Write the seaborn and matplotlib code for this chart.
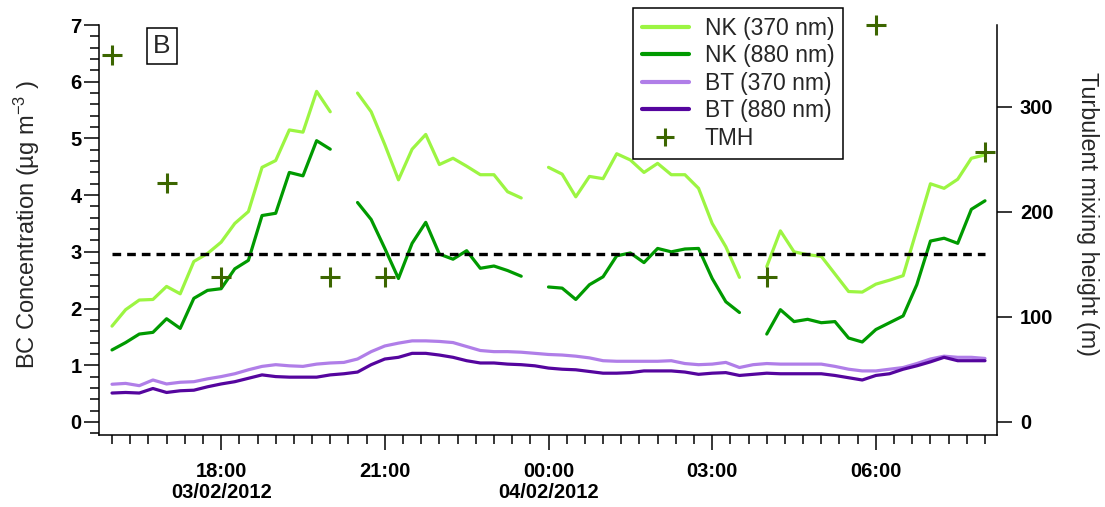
import numpy as np
import pandas as pd
import matplotlib
matplotlib.use("Agg")
import matplotlib.pyplot as plt
import matplotlib.dates as mdates
from matplotlib.ticker import MultipleLocator, FixedLocator
from matplotlib.lines import Line2D
import seaborn as sns

# ---------------- data ----------------
start_time = "2012-02-03 16:00"
n_points = 65  # 15-minute data, 16:00 -> 08:00
nan = np.nan

nk370 = [1.69, 1.98, 2.15, 2.16, 2.39, 2.26, 2.83, 2.97, 3.17, 3.50, 3.71, 4.49, 4.61,
         5.15, 5.11, 5.83, 5.47, nan, 5.80, 5.47, 4.89, 4.27, 4.81, 5.07, 4.54, 4.65,
         4.51, 4.36, 4.36, 4.06, 3.95, nan, 4.49, 4.37, 3.97, 4.33, 4.29, 4.73, 4.62,
         4.40, 4.56, 4.36, 4.36, 4.12, 3.50, 3.09, 2.55, nan, 2.74, 3.37, 3.00, 2.95,
         2.92, 2.61, 2.30, 2.29, 2.43, 2.50, 2.58, 3.39, 4.20, 4.12, 4.28, 4.65, 4.71]

nk880 = [1.27, 1.40, 1.55, 1.58, 1.82, 1.65, 2.18, 2.32, 2.35, 2.70, 2.85, 3.64, 3.68,
         4.40, 4.34, 4.96, 4.81, nan, 3.87, 3.57, 3.06, 2.53, 3.15, 3.52, 2.96, 2.87,
         3.02, 2.71, 2.75, 2.67, 2.57, nan, 2.38, 2.36, 2.16, 2.42, 2.56, 2.93, 2.98,
         2.81, 3.06, 3.00, 3.05, 3.06, 2.53, 2.12, 1.93, nan, 1.55, 1.98, 1.77, 1.81,
         1.75, 1.77, 1.48, 1.41, 1.63, 1.75, 1.87, 2.42, 3.19, 3.24, 3.15, 3.75, 3.90]

bt370 = [0.665, 0.68, 0.64, 0.74, 0.67, 0.70, 0.71, 0.76, 0.80, 0.85, 0.92, 0.98, 1.01,
         0.99, 0.98, 1.02, 1.04, 1.05, 1.11, 1.24, 1.34, 1.39, 1.43, 1.43, 1.42, 1.40,
         1.33, 1.26, 1.24, 1.24, 1.23, 1.21, 1.19, 1.18, 1.16, 1.13, 1.08, 1.07, 1.07,
         1.07, 1.07, 1.08, 1.03, 1.01, 1.02, 1.05, 0.96, 1.01, 1.03, 1.02, 1.02, 1.02,
         1.02, 0.98, 0.93, 0.90, 0.90, 0.93, 0.96, 1.03, 1.11, 1.16, 1.14, 1.14, 1.12]

bt880 = [0.51, 0.52, 0.51, 0.59, 0.52, 0.55, 0.56, 0.62, 0.67, 0.71, 0.77, 0.83, 0.80,
         0.79, 0.79, 0.79, 0.83, 0.85, 0.88, 1.01, 1.11, 1.14, 1.21, 1.21, 1.18, 1.14,
         1.08, 1.04, 1.04, 1.02, 1.01, 0.99, 0.95, 0.93, 0.92, 0.89, 0.86, 0.86, 0.87,
         0.90, 0.90, 0.90, 0.88, 0.84, 0.86, 0.87, 0.82, 0.84, 0.86, 0.85, 0.85, 0.85,
         0.85, 0.82, 0.78, 0.74, 0.82, 0.85, 0.93, 0.99, 1.06, 1.14, 1.08, 1.08, 1.08]

tmh_times = ["2012-02-03 16:00", "2012-02-03 17:00", "2012-02-03 18:00",
             "2012-02-03 20:00", "2012-02-03 21:00", "2012-02-04 04:00",
             "2012-02-04 06:00", "2012-02-04 08:00"]
tmh_values = [349, 228, 138, 138, 138, 138, 378, 257]

threshold = 2.97

series_names = ["NK (370 nm)", "NK (880 nm)", "BT (370 nm)", "BT (880 nm)"]
series_colors = ["#9cf542", "#009a00", "#b07ee8", "#55059e"]
tmh_name = "TMH"
tmh_color = "#3c6600"

xtick_times = ["2012-02-03 18:00", "2012-02-03 21:00", "2012-02-04 00:00",
               "2012-02-04 03:00", "2012-02-04 06:00"]
xtick_labels = ["18:00\n03/02/2012", "21:00", "00:00\n04/02/2012", "03:00", "06:00"]
yticks_left = [0, 1, 2, 3, 4, 5, 6, 7]
yticks_right = [0, 100, 200, 300]
ylabel_left = "BC Concentration (µg m$^{-3}$ )"
ylabel_right = "Turbulent mixing height (m)"
panel_label = "B"

# ---------------- style ----------------
sns.set_theme(style="ticks")
plt.rcParams['font.family'] = ['Liberation Sans', 'DejaVu Sans']
plt.rcParams['mathtext.fontset'] = 'custom'
plt.rcParams['mathtext.rm'] = 'Liberation Sans'
plt.rcParams['mathtext.it'] = 'Liberation Sans'
plt.rcParams['mathtext.bf'] = 'Liberation Sans:bold'

times = pd.date_range(start_time, periods=n_points, freq="15min")

fig = plt.figure(figsize=(11.05, 5.07), dpi=100)
ax = fig.add_axes([99 / 1105, 1 - 435 / 507, 898 / 1105, 410 / 507])

for vals, color in zip([nk370, nk880, bt370, bt880], series_colors):
    v = np.asarray(vals, dtype=float)
    df = pd.DataFrame({"time": times, "value": v, "seg": np.cumsum(np.isnan(v))}).dropna()
    sns.lineplot(data=df, x="time", y="value", units="seg", estimator=None,
                 color=color, linewidth=2.3, ax=ax, legend=False)

ax.hlines(threshold, times[0], times[-1], colors="black", linewidth=2.4,
          linestyles=(0, (2.6, 1.8)))

ax.set_xlim(pd.Timestamp("2012-02-03 15:45:42"), pd.Timestamp("2012-02-04 08:13:12"))
ax.set_ylim(-0.23, 7.0)

ax2 = ax.twinx()
sns.scatterplot(x=pd.to_datetime(tmh_times), y=tmh_values, marker="+", s=200,
                color=tmh_color, linewidth=2.2, ax=ax2, clip_on=False, legend=False, zorder=5)
ax2.set_ylim(-12.4, 378)

# ticks
ax.set_xticks(pd.to_datetime(xtick_times))
ax.set_xticklabels(xtick_labels)
ax.xaxis.set_minor_locator(mdates.MinuteLocator(byminute=[0, 20, 40]))
ax.set_yticks(yticks_left)
ax.yaxis.set_minor_locator(MultipleLocator(0.2))
ax2.set_yticks(yticks_right)
ax2.yaxis.set_minor_locator(FixedLocator([]))

ax.set_xlabel("")
ax.set_ylabel("")
ax2.set_ylabel("")

ax.tick_params(axis="both", which="major", length=10.5, width=1.1, colors="black",
               labelsize=14.5, direction="out")
ax.tick_params(axis="both", which="minor", length=6.5, width=1.1, colors="black", direction="out")
ax.tick_params(axis="x", which="major", pad=9)
ax.tick_params(axis="y", which="major", pad=2)
ax2.tick_params(axis="y", which="major", length=10.5, width=1.1, colors="black",
                labelsize=14.5, direction="out", pad=6)

for lbl in ax.get_xticklabels() + ax.get_yticklabels() + ax2.get_yticklabels():
    lbl.set_fontweight("bold")
for lbl in ax.get_xticklabels():
    lbl.set_linespacing(1.1)

for a in (ax, ax2):
    a.spines["top"].set_visible(False)
    for s in a.spines.values():
        s.set_linewidth(1.1)
        s.set_color("black")
ax.spines["right"].set_visible(False)
ax2.spines["left"].set_visible(False)
ax2.spines["bottom"].set_visible(False)

# axis labels
fig.text(27 / 1105, 1 - 225 / 507, ylabel_left, rotation=90, ha="center", va="center", fontsize=17)
fig.text(1088 / 1105, 1 - 214 / 507, ylabel_right, rotation=270, ha="center", va="center", fontsize=16.8)

# panel label
fig.text(162 / 1105, 1 - 46 / 507, panel_label, ha="center", va="center", fontsize=19,
         bbox=dict(boxstyle="square,pad=0.22", fc="white", ec="black", lw=1.1))

# legend
handles = [Line2D([], [], color=c, linewidth=3) for c in series_colors]
handles.append(Line2D([], [], linestyle="none", marker="+", markersize=13,
                      markeredgewidth=2.2, color=tmh_color))
leg = fig.legend(handles, series_names + [tmh_name], loc="upper left",
                 bbox_to_anchor=(633 / 1105, 1 - 8 / 507), fontsize=16.5, frameon=True,
                 fancybox=False, edgecolor="black", framealpha=1, labelspacing=0.2,
                 handlelength=2.05, handletextpad=0.7, borderpad=0.38, borderaxespad=0,
                 numpoints=1)
leg.get_frame().set_linewidth(1.1)

fig.savefig("out.png", dpi=100)
